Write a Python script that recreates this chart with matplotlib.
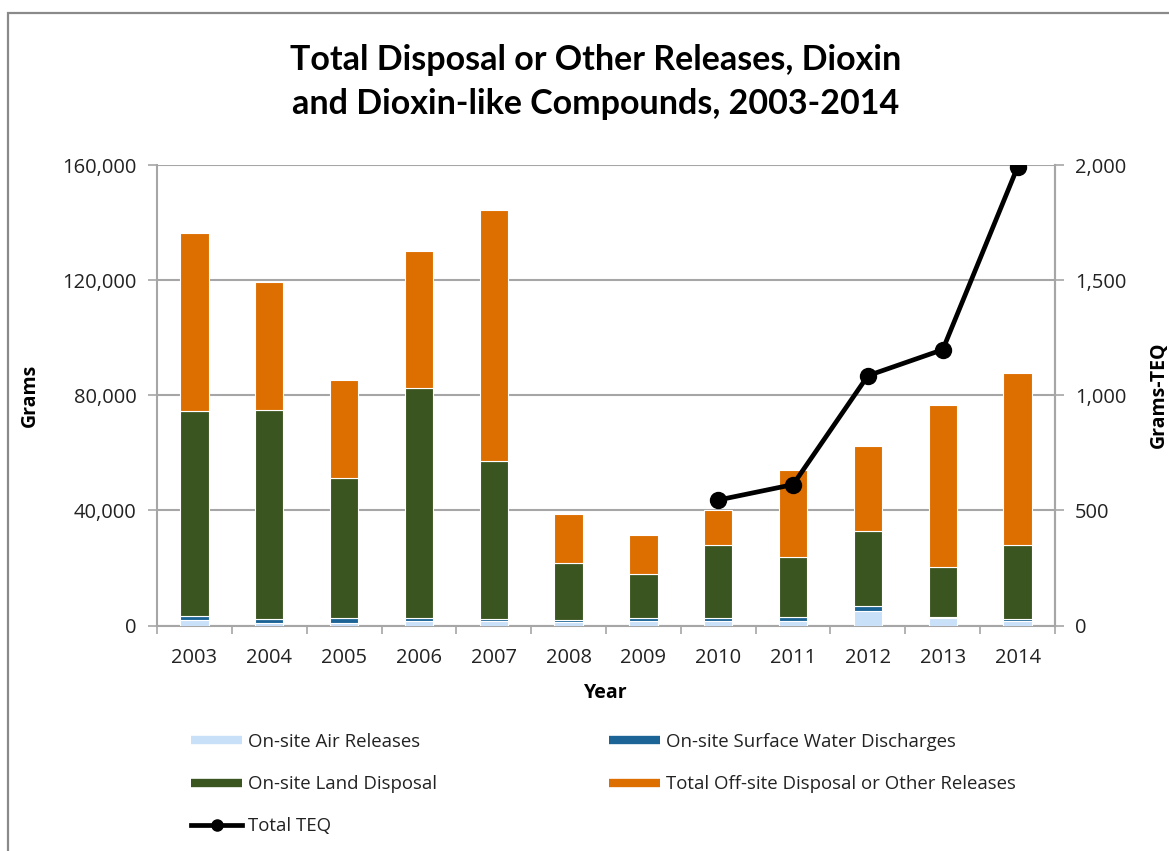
import numpy as np
import matplotlib
matplotlib.use('Agg')
import matplotlib.pyplot as plt
from matplotlib.patches import Rectangle
from matplotlib.lines import Line2D
from matplotlib.ticker import FuncFormatter, FixedLocator

years = ['2003', '2004', '2005', '2006', '2007', '2008',
         '2009', '2010', '2011', '2012', '2013', '2014']

# grams
air = [2000, 1000, 900, 1700, 1500, 1300, 1500, 1500, 1600, 5200, 2600, 1700]
water = [1200, 1100, 1700, 1000, 800, 600, 1000, 1000, 1400, 1700, 500, 700]
land = [71300, 72900, 48800, 79800, 54900, 19700, 15500, 25400, 20800, 25800, 17200, 25500]
offsite = [62000, 44500, 34000, 47500, 87300, 17200, 13600, 12300, 30100, 29700, 56300, 59900]

# grams-TEQ (only reported from 2010)
teq = [np.nan] * 7 + [545, 612, 1085, 1198, 1991]

c_air = '#c9e0f9'
c_water = '#1b6495'
c_land = '#3b5520'
c_off = '#dd6f00'
c_grid = '#a6a6a6'

plt.rcParams['font.family'] = ['Open Sans', 'DejaVu Sans']

fig = plt.figure(figsize=(11.69, 8.51), dpi=100)
ax = fig.add_axes([157/1169, 1-625.5/851, (1055-157)/1169, (625.5-165)/851])

x = np.arange(len(years))
w = 0.38
b1 = np.array(air)
b2 = b1 + np.array(water)
b3 = b2 + np.array(land)
ax.bar(x, air, w, color=c_air, edgecolor='white', linewidth=0.8, zorder=3)
ax.bar(x, water, w, bottom=b1, color=c_water, edgecolor='white', linewidth=0.8, zorder=3)
ax.bar(x, land, w, bottom=b2, color=c_land, edgecolor='white', linewidth=0.8, zorder=3)
ax.bar(x, offsite, w, bottom=b3, color=c_off, edgecolor='white', linewidth=0.8, zorder=3)

ax.set_xlim(-0.5, len(years) - 0.5)
ax.set_ylim(0, 160000)
ax.set_yticks(range(0, 160001, 40000))
ax.yaxis.set_major_formatter(FuncFormatter(lambda v, p: f'{int(v):,}'))
ax.grid(axis='y', color=c_grid, linewidth=1.5, zorder=0)
ax.set_xticks(x)
ax.set_xticklabels(years)
ax.xaxis.set_minor_locator(FixedLocator(np.arange(-0.5, len(years), 1)))
ax.tick_params(axis='x', which='major', length=0, pad=16, labelsize=14.5, colors='#222222')
ax.tick_params(axis='x', which='minor', length=6, width=1.2, color=c_grid)
ax.tick_params(axis='y', length=6.5, width=1.2, color=c_grid, pad=8, labelsize=14.5, labelcolor='#222222')
for s in ['left', 'bottom', 'right']:
    ax.spines[s].set_color(c_grid)
    ax.spines[s].set_linewidth(1.5)
ax.spines['top'].set_visible(False)

ax.set_ylabel('Grams', fontsize=14, fontweight='bold', labelpad=16)
ax.set_xlabel('Year', fontsize=14, fontweight='bold', labelpad=11)

ax2 = ax.twinx()
ax2.plot(x, teq, color='black', linewidth=3.4, marker='o', markersize=11.5, zorder=5)
ax2.set_ylim(0, 2000)
ax2.set_yticks(range(0, 2001, 500))
ax2.yaxis.set_major_formatter(FuncFormatter(lambda v, p: f'{int(v):,}'))
ax2.tick_params(axis='y', length=6.5, width=1.2, color=c_grid, pad=8, labelsize=14.5, labelcolor='#222222')
for s in ['left', 'bottom', 'top']:
    ax2.spines[s].set_visible(False)
ax2.spines['right'].set_color(c_grid)
ax2.spines['right'].set_linewidth(1.5)
ax2.set_ylabel('Grams-TEQ', fontsize=14, fontweight='bold', labelpad=16)

fig.text(596/1169, 1-60/851, 'Total Disposal or Other Releases, Dioxin',
         ha='center', va='center', fontsize=24.5, fontweight='bold', family='Lato')
fig.text(596/1169, 1-104/851, 'and Dioxin-like Compounds, 2003-2014',
         ha='center', va='center', fontsize=24.5, fontweight='bold', family='Lato')

handles = [
    Line2D([], [], color=c_air, lw=6, solid_capstyle='butt'),
    Line2D([], [], color=c_land, lw=6, solid_capstyle='butt'),
    Line2D([], [], color='black', lw=3.4, marker='o', markersize=8),
    Line2D([], [], color=c_water, lw=6, solid_capstyle='butt'),
    Line2D([], [], color=c_off, lw=6, solid_capstyle='butt'),
]
labels = ['On-site Air Releases', 'On-site Land Disposal', 'Total TEQ',
          'On-site Surface Water Discharges', 'Total Off-site Disposal or Other Releases']
leg = fig.legend(handles, labels, ncol=2, loc='upper left',
                 bbox_to_anchor=(191/1169, 1-733/851), frameon=False,
                 fontsize=13.4, handlelength=2.75, handletextpad=0.33,
                 columnspacing=9.23, labelspacing=1.3, numpoints=1,
                 borderaxespad=0, borderpad=0)
for t in leg.get_texts():
    t.set_color('#222222')

fig.add_artist(Rectangle((8/1169, -0.1), 1.2, 1.1 - 13/851, transform=fig.transFigure,
                         fill=False, edgecolor='#8a8a8a', linewidth=1.6))

fig.savefig('out.png', dpi=100)
